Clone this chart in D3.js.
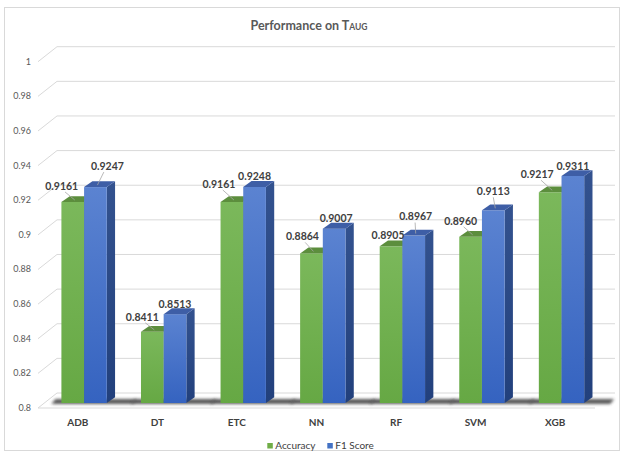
<!DOCTYPE html>
<html><head><meta charset="utf-8">
<script src="https://cdn.jsdelivr.net/npm/d3@7"></script>
<style>
html,body{margin:0;padding:0;background:#fff;}
svg{display:block;font-family:Lato,"Open Sans",sans-serif;}
</style></head>
<body>
<svg id="chart" width="624" height="457"></svg>
<script>
// ---- data ----
const categories = ["ADB","DT","ETC","NN","RF","SVM","XGB"];
const accuracy = [0.9161,0.8411,0.9161,0.8864,0.8905,0.8960,0.9217];
const f1Score  = [0.9247,0.8513,0.9248,0.9007,0.8967,0.9113,0.9311];
const seriesNames = ["Accuracy","F1 Score"];
const yTicks = [0.8,0.82,0.84,0.86,0.88,0.9,0.92,0.94,0.96,0.98,1];
const yTickLabels = ["0.8","0.82","0.84","0.86","0.88","0.9","0.92","0.94","0.96","0.98","1"];

// ---- layout (label nudges relative to bar top) ----
const accNudge = [[-11,-16],[-10,-15],[-13,-18],[-9,-17],[-3,-11],[-10,-16],[-13,-18]];
const f1Nudge  = [[12,-21],[0,-10],[0,-11],[2,-10],[2,-19],[0,-19],[0,-10]];

const svg = d3.select("#chart");
const W = {dx:19, dy:-15};    // wall depth
const P = {dx:6.3, dy:-5};    // bar plane offset
const D = {dx:8.3, dy:-5.8};  // bar depth

const x = d3.scaleBand().domain(categories).range([38,595]);
const y = d3.scaleLinear().domain([0.8,1]).range([408,61.7]);
const bw = x.bandwidth()*0.285;

const defs = svg.append("defs");
function grad(id, c1, c2){
  const g = defs.append("linearGradient").attr("id",id).attr("x1",0).attr("y1",0).attr("x2",0).attr("y2",1);
  g.append("stop").attr("offset","0%").attr("stop-color",c1);
  g.append("stop").attr("offset","100%").attr("stop-color",c2);
}
grad("gFront","#7bb85b","#66a844");
grad("bFront","#5b83d1","#3563c0");
grad("bSide","#33528f","#22407c");
grad("gSide","#4f8032","#3f6c27");
defs.append("filter").attr("id","blur").attr("x","-20%").attr("y","-100%").attr("width","140%").attr("height","300%")
  .append("feGaussianBlur").attr("stdDeviation",1.6);

// border
svg.append("rect").attr("x",4.5).attr("y",7.5).attr("width",615).attr("height",443)
  .attr("fill","#fff").attr("stroke","#d9d9d9").attr("stroke-width",1);

// title
const title = svg.append("text").attr("x",309).attr("y",30).attr("text-anchor","middle")
  .attr("font-size",12.5).attr("font-weight","bold").attr("fill","#595959");
title.append("tspan").text("Performance on T");
title.append("tspan").attr("font-size",8.5).text("AUG");

// gridlines: back wall + side diagonal
const grid = svg.append("g").attr("stroke","#d9d9d9").attr("stroke-width",1).attr("fill","none");
yTicks.forEach(t=>{
  const yy = y(t);
  grid.append("line").attr("x1",38+W.dx).attr("y1",yy+W.dy).attr("x2",615).attr("y2",yy+W.dy);
  grid.append("line").attr("x1",38).attr("y1",yy).attr("x2",38+W.dx).attr("y2",yy+W.dy);
});
// floor front edge
grid.append("line").attr("x1",38).attr("y1",y(0.8)).attr("x2",595).attr("y2",y(0.8));

// y tick labels
svg.append("g").selectAll("text").data(yTicks).join("text")
  .attr("x",31).attr("y",d=>y(d)+3).attr("text-anchor","end")
  .attr("font-size",9).attr("fill","#595959").text((d,i)=>yTickLabels[i]);

// bars
const base = y(0.8)+P.dy;
const gBars = svg.append("g");
categories.forEach((c,i)=>{
  const gx = x(c) + (x.bandwidth()-2*bw)/2 + P.dx;
  const bx = gx + bw;
  // shadow
  gBars.append("polygon")
    .attr("points",[[gx-10,base+1],[bx+bw+26,base+1],[bx+bw+30,base-4],[gx-6,base-4]].map(p=>p.join(",")).join(" "))
    .attr("fill","#333").attr("opacity",0.8).attr("filter","url(#blur)");
  [[accuracy[i],gx,"g"],[f1Score[i],bx,"b"]].forEach(([v,bx0,k])=>{
    const top = y(v)+P.dy;
    gBars.append("polygon")
      .attr("points",[[bx0+bw,top],[bx0+bw+D.dx,top+D.dy],[bx0+bw+D.dx,base+D.dy],[bx0+bw,base]].map(p=>p.join(",")).join(" "))
      .attr("fill",k==="g"?"url(#gSide)":"url(#bSide)");
    gBars.append("rect").attr("x",bx0).attr("y",top).attr("width",bw).attr("height",base-top)
      .attr("fill",k==="g"?"url(#gFront)":"url(#bFront)");
    gBars.append("polygon")
      .attr("points",[[bx0,top],[bx0+bw,top],[bx0+bw+D.dx,top+D.dy],[bx0+D.dx,top+D.dy]].map(p=>p.join(",")).join(" "))
      .attr("fill",k==="g"?"#5c8e3d":"#3e5ea6");
  });
});

// value labels with leader lines
const gLab = svg.append("g");
categories.forEach((c,i)=>{
  const gx = x(c) + (x.bandwidth()-2*bw)/2 + P.dx;
  const bx = gx + bw;
  [[accuracy[i],gx,accNudge[i]],[f1Score[i],bx,f1Nudge[i]]].forEach(([v,bx0,n])=>{
    const top = y(v)+P.dy;
    const cx = bx0 + bw/2;
    const lx = cx + n[0], ly = top + n[1];
    if (n[1] < -13) {
      gLab.append("line")
        .attr("x1", lx + (cx-lx)*0.3).attr("y1", ly+6)
        .attr("x2", cx + 2).attr("y2", top-2)
        .attr("stroke","#a6a6a6").attr("stroke-width",0.8);
    }
    gLab.append("text").attr("x",lx).attr("y",ly+3.8).attr("text-anchor","middle")
      .attr("font-size",10.5).attr("font-weight","bold").attr("fill","#404040")
      .text(v.toFixed(4));
  });
});

// category labels
svg.append("g").selectAll("text").data(categories).join("text")
  .attr("x",d=>x(d)+x.bandwidth()/2).attr("y",425.5).attr("text-anchor","middle")
  .attr("font-size",10).attr("font-weight","bold").attr("fill","#404040").text(d=>d);

// legend
const legColors = ["#70ad47","#4472c4"];
const leg = svg.append("g");
const legX = [267.3, 327.3];
seriesNames.forEach((s,i)=>{
  leg.append("rect").attr("x",legX[i]).attr("y",443).attr("width",5.5).attr("height",5.5).attr("fill",legColors[i]);
  leg.append("text").attr("x",legX[i]+8).attr("y",449.3).attr("font-size",10).attr("fill","#404040").text(s);
});
</script>
</body></html>
